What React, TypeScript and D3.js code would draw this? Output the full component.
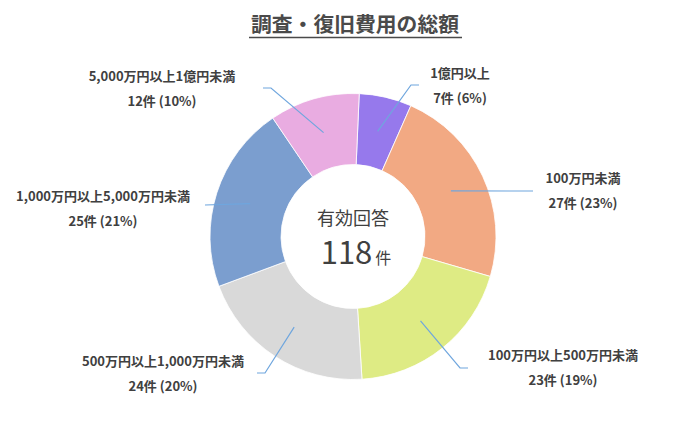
import React from "react";
import * as d3 from "d3";

const categories = [
  "1億円以上",
  "100万円未満",
  "100万円以上500万円未満",
  "500万円以上1,000万円未満",
  "1,000万円以上5,000万円未満",
  "5,000万円以上1億円未満",
];
const counts = [7, 27, 23, 24, 25, 12];
const percents = ["6%", "23%", "19%", "20%", "21%", "10%"];
const colors = ["#9679EC", "#F2A983", "#DEEB84", "#D9D9D9", "#7B9ECF", "#E9ACE1"];
const total = 118;

// layout: label centre positions and leader elbow points
const labelPos: [number, number][] = [
  [460, 78],
  [583, 183],
  [563, 360],
  [163, 366],
  [103, 201],
  [162, 81],
];
const elbow: [number, number, number][] = [
  // x, y, horizontal end x
  [411, 85, 419],
  [533, 191, 533],
  [460, 368, 468],
  [265, 373, 257],
  [205, 205, 205],
  [271, 88, 263],
];

const W = 700;
const H = 424;
const cx = 353;
const cy = 236.5;
const rOuter = 143;
const rInner = 72;
const startOffset = (2.5 * Math.PI) / 180;
const FONT = "'Noto Sans CJK JP', 'Noto Sans', sans-serif";

export default function App() {
  const pie = d3
    .pie<number>()
    .sort(null)
    .value((d) => d)
    .startAngle(startOffset)
    .endAngle(startOffset + 2 * Math.PI);
  const arcs = pie(counts);
  const arc = d3.arc<d3.PieArcDatum<number>>().innerRadius(rInner).outerRadius(rOuter);
  const leaderArc = d3.arc<d3.PieArcDatum<number>>().innerRadius(108).outerRadius(108);

  return (
    <svg
      width={W}
      height={H}
      style={{ position: "absolute", left: 0, top: 0, background: "#fff" }}
      fontFamily={FONT}
    >
      <text x={cx + 2} y={32} textAnchor="middle" fontSize={20.8} fontWeight={700} fill="#4a4a4a">
        調査・復旧費用の総額
      </text>
      <line x1={249} x2={462} y1={37.5} y2={37.5} stroke="#4a4a4a" strokeWidth={1.3} />
      <g transform={`translate(${cx},${cy})`}>
        {arcs.map((a, i) => (
          <path key={i} d={arc(a) || ""} fill={colors[i]} stroke="#fff" strokeWidth={0.8} />
        ))}
      </g>
      {arcs.map((a, i) => {
        const [lx, ly] = leaderArc.centroid(a);
        const [ex, ey, hx] = elbow[i];
        return (
          <polyline
            key={i}
            points={`${cx + lx},${cy + ly} ${ex},${ey} ${hx},${ey}`}
            fill="none"
            stroke="#6FA6DE"
            strokeWidth={1.2}
          />
        );
      })}
      {categories.map((c, i) => (
        <g key={i} fontSize={13} fontWeight={700} fill="#404040" textAnchor="middle">
          <text x={labelPos[i][0]} y={labelPos[i][1]}>
            {c}
          </text>
          <text x={labelPos[i][0]} y={labelPos[i][1] + 25}>
            {counts[i]}件 ({percents[i]})
          </text>
        </g>
      ))}
      <text x={cx} y={225} textAnchor="middle" fontSize={18} fill="#404040">
        有効回答
      </text>
      <text x={cx + 3} y={264} textAnchor="middle" fill="#404040">
        <tspan fontSize={31}>{total}</tspan>
        <tspan fontSize={16} dx={3}>件</tspan>
      </text>
    </svg>
  );
}
